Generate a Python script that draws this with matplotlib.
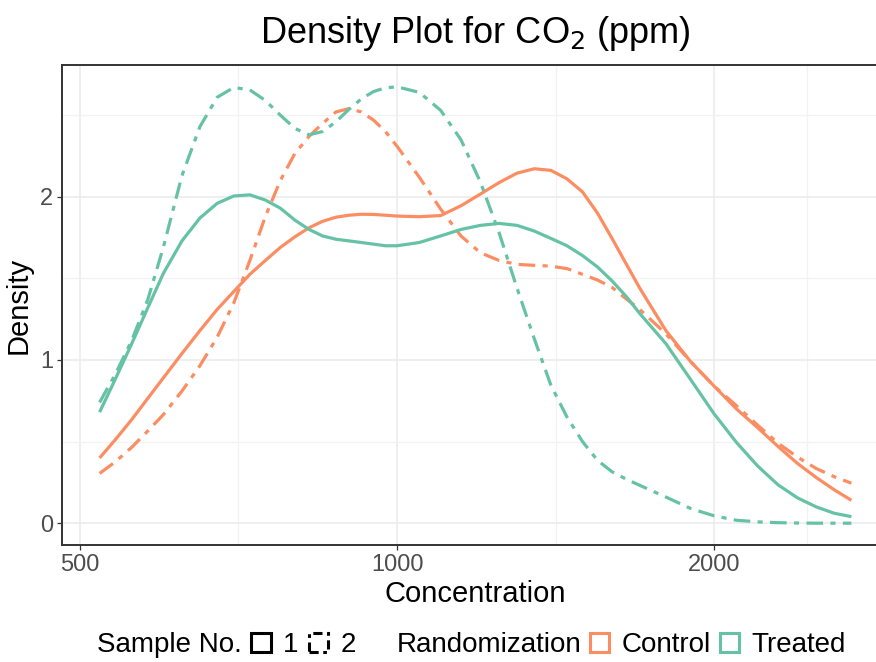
import numpy as np
import matplotlib
matplotlib.use("Agg")
import matplotlib.pyplot as plt
from matplotlib.patches import Patch
from matplotlib.ticker import FixedLocator, NullFormatter

plt.rcParams['font.family'] = ['Liberation Sans', 'DejaVu Sans']

# ---- data ----
conc = [522, 540, 560, 580, 600, 625, 650, 675, 700, 725, 750, 775, 800, 825, 850,
        875, 900, 925, 950, 975, 1000, 1050, 1100, 1150, 1200, 1250, 1300, 1350,
        1400, 1450, 1500, 1550, 1600, 1650, 1700, 1800, 1900, 2000, 2100, 2200,
        2300, 2400, 2500, 2600, 2700]

control_1 = [0.40, 0.51, 0.635, 0.765, 0.89, 1.04, 1.18, 1.31, 1.42, 1.525, 1.61, 1.69,
             1.755, 1.81, 1.85, 1.875, 1.887, 1.893, 1.892, 1.887, 1.882, 1.878, 1.885,
             1.945, 2.017, 2.087, 2.145, 2.172, 2.162, 2.11, 2.03, 1.90, 1.745, 1.59,
             1.44, 1.18, 0.99, 0.84, 0.70, 0.585, 0.47, 0.366, 0.28, 0.205, 0.14]
control_2 = [0.305, 0.375, 0.465, 0.565, 0.665, 0.81, 0.965, 1.14, 1.35, 1.61, 1.88, 2.10,
             2.266, 2.37, 2.45, 2.52, 2.54, 2.52, 2.47, 2.40, 2.31, 2.12, 1.925, 1.76,
             1.657, 1.61, 1.586, 1.58, 1.575, 1.56, 1.525, 1.49, 1.445, 1.375, 1.31,
             1.16, 0.99, 0.84, 0.72, 0.60, 0.49, 0.405, 0.335, 0.285, 0.245]
treated_1 = [0.68, 0.88, 1.10, 1.32, 1.53, 1.73, 1.87, 1.96, 2.005, 2.012, 1.98, 1.93,
             1.857, 1.80, 1.76, 1.74, 1.73, 1.72, 1.71, 1.70, 1.70, 1.72, 1.76, 1.80,
             1.825, 1.837, 1.825, 1.79, 1.745, 1.70, 1.64, 1.57, 1.485, 1.39, 1.285,
             1.10, 0.88, 0.67, 0.495, 0.35, 0.235, 0.155, 0.10, 0.061, 0.04]
treated_2 = [0.74, 0.91, 1.12, 1.37, 1.69, 2.13, 2.43, 2.61, 2.67, 2.655, 2.59, 2.50,
             2.419, 2.38, 2.40, 2.46, 2.535, 2.60, 2.645, 2.668, 2.674, 2.64, 2.53, 2.35,
             2.09, 1.78, 1.44, 1.13, 0.845, 0.65, 0.50, 0.385, 0.315, 0.27, 0.232, 0.16,
             0.09, 0.045, 0.018, 0.008, 0.003, 0.001, 0.0, 0.0, 0.0]

series = [("Control", "1", control_1), ("Control", "2", control_2),
          ("Treated", "1", treated_1), ("Treated", "2", treated_2)]

x_major = [500, 1000, 2000]
x_minor = [707.1, 1414.2, 2449.5]
y_major = [0, 1, 2]
y_minor = [0.5, 1.5, 2.5]

colors = {"Control": "#FC8D62", "Treated": "#66C2A5"}
dash2 = (0, (5.2, 2.3, 1.6, 2.3))
styles = {"1": "-", "2": dash2}

# ---- figure ----
W, H = 876, 662
fig = plt.figure(figsize=(W / 100, H / 100), dpi=100)
ax = fig.add_axes([62 / W, 1 - 545 / H, (889 - 62) / W, (545 - 65) / H])

for grp, samp, vals in series:
    ax.plot(conc, vals, color=colors[grp], linestyle=styles[samp], linewidth=2.3,
            solid_capstyle='butt', dash_capstyle='butt', solid_joinstyle='round')

ax.set_xscale('log')
lx = np.log10([min(conc), max(conc)])
ex = 0.05 * (lx[1] - lx[0])
ax.set_xlim(10 ** (lx[0] - ex), 10 ** (lx[1] + ex))
allv = np.concatenate([control_1, control_2, treated_1, treated_2])
ymin, ymax = 0.0, allv.max()
ey = 0.05 * (ymax - ymin)
ax.set_ylim(ymin - ey, ymax + ey)

ax.xaxis.set_major_locator(FixedLocator(x_major))
ax.xaxis.set_minor_locator(FixedLocator(x_minor))
ax.xaxis.set_minor_formatter(NullFormatter())
ax.set_xticklabels([str(v) for v in x_major])
ax.yaxis.set_major_locator(FixedLocator(y_major))
ax.yaxis.set_minor_locator(FixedLocator(y_minor))
ax.set_yticklabels([str(v) for v in y_major])

ax.grid(True, which='major', color='#EBEBEB', linewidth=1.1)
ax.grid(True, which='minor', color='#F2F2F2', linewidth=0.9)
ax.set_axisbelow(True)
ax.tick_params(which='major', length=3.5, width=0.9, color='#333333',
               labelsize=17, labelcolor='#4D4D4D', pad=3)
ax.tick_params(which='minor', length=0)
for s in ax.spines.values():
    s.set_color('#333333')
    s.set_linewidth(1.4)

ax.set_xlabel("Concentration", fontsize=21, labelpad=3)
ax.set_ylabel("Density", fontsize=21, labelpad=5)

fig.text((62 + 889) / 2 / W, 1 - 43 / H, "Density Plot for CO$_2$ (ppm)",
         fontsize=26, ha='center', va='baseline')

# ---- legends ----
blank = Patch(facecolor='none', edgecolor='none')
leg_kw = dict(loc='center left', ncol=3, frameon=False, fontsize=20,
              handlelength=0.7, handleheight=0.7, handletextpad=0.45, borderpad=0,
              borderaxespad=0)
h1 = [blank,
      Patch(facecolor='white', edgecolor='black', linewidth=2.2, linestyle='-'),
      Patch(facecolor='white', edgecolor='black', linewidth=2.2,
            linestyle=(0, (3, 1.5, 1.2, 1.5)))]
l1 = ["Sample No.", "1", "2"]
fig.legend(h1, l1, bbox_to_anchor=(65 / W, 1 - 645 / H), columnspacing=0.35, **leg_kw)
h2 = [blank,
      Patch(facecolor='white', edgecolor=colors["Control"], linewidth=2.2),
      Patch(facecolor='white', edgecolor=colors["Treated"], linewidth=2.2)]
l2 = ["Randomization", "Control", "Treated"]
fig.legend(h2, l2, bbox_to_anchor=(365 / W, 1 - 645 / H), columnspacing=0.3, **leg_kw)

fig.savefig("out.png", dpi=100)
